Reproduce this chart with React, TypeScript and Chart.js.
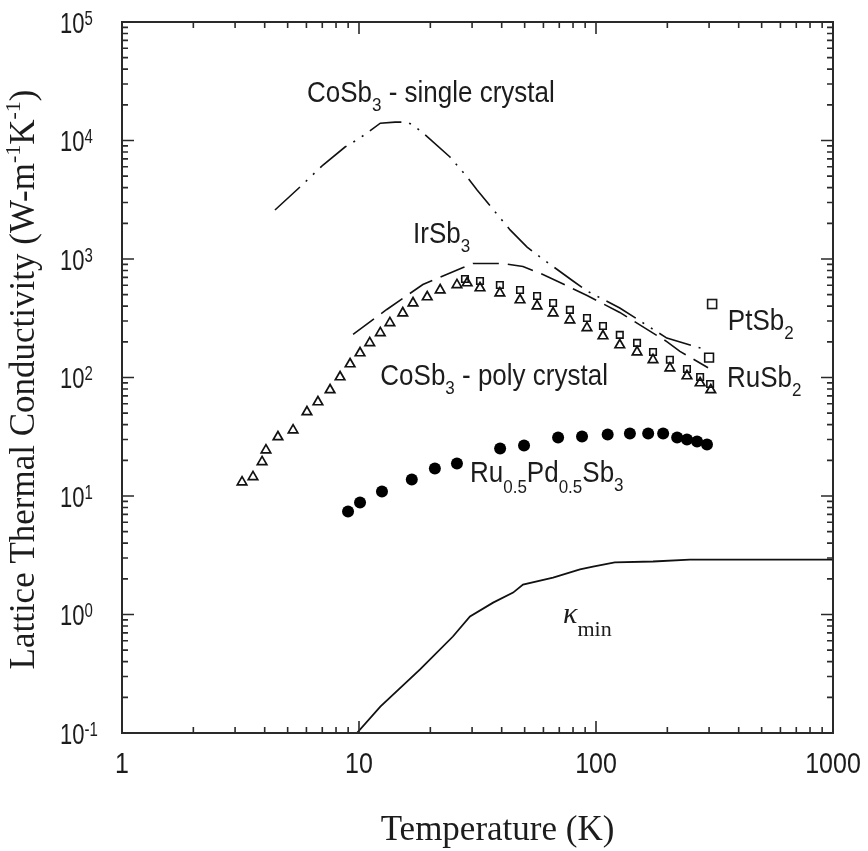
import React, { useEffect, useRef } from 'react';
import { Chart, registerables } from 'chart.js';

Chart.register(...registerables);

// ---------- data (T in K, kappa in W m^-1 K^-1) ----------
const singleCrystalT = [4.42, 5.64, 7.05, 8.73, 10.1, 12.3, 14.2, 15.9, 16.9, 18.6, 24.2, 28.6, 31.5, 43.4, 51.2, 58.0, 80.0, 91.6, 126, 199, 294];
const singleCrystalK = [2590, 4060, 6210, 8810, 10500, 14000, 14300, 14300, 13500, 11600, 7260, 4920, 3820, 1760, 1260, 1040, 652, 537, 386, 215, 171];

const irSb3T = [9.44, 13.1, 18.6, 27.5, 30.3, 40.5, 49.2, 59.7, 70.5, 91.7, 126, 199, 226, 297];
const irSb3K = [231, 375, 609, 848, 916, 916, 864, 740, 634, 492, 354, 201, 166, 121];

const polyT = [3.21, 3.57, 3.90, 4.05, 4.55, 5.27, 6.03, 6.71, 7.55, 8.32, 9.17, 10.1, 11.1, 12.3, 13.5, 15.3, 16.9, 19.4, 22.0, 25.9, 28.6, 32.4, 39.3, 47.8, 56.4, 65.9, 77.6, 91.6, 107, 126, 149, 174, 205, 242, 275, 305];
const polyK = [13.1, 14.5, 19.4, 24.4, 31.5, 36.0, 51.2, 62.1, 78.5, 101, 130, 161, 196, 238, 289, 350, 425, 478, 547, 604, 627, 569, 516, 451, 401, 350, 305, 262, 224, 188, 164, 141, 120, 103, 89.9, 78.5];

const ruSb2T = [28.0, 32.4, 39.3, 47.8, 56.4, 65.9, 77.6, 91.6, 107, 126, 149, 174, 205, 242, 275, 303];
const ruSb2K = [678, 652, 604, 547, 487, 425, 372, 318, 272, 229, 196, 164, 141, 118, 101, 88.1];

const ptSb2T = [300];
const ptSb2K = [147];

const ruPdT = [8.99, 10.1, 12.5, 16.7, 20.9, 25.9, 39.4, 49.7, 69.2, 87.3, 112, 139, 166, 192, 220, 242, 267, 294];
const ruPdK = [7.40, 8.81, 10.9, 13.8, 17.1, 18.8, 25.2, 26.7, 31.2, 31.8, 33.0, 33.7, 33.7, 33.7, 31.2, 30.0, 28.8, 27.2];

const kMinT = [9.8, 12.3, 18.1, 24.9, 29.4, 36.8, 44.7, 49.2, 65.9, 85.6, 97.1, 120, 174, 249, 1000];
const kMinK = [0.1, 0.167, 0.344, 0.652, 0.962, 1.26, 1.53, 1.79, 2.05, 2.40, 2.54, 2.75, 2.80, 2.91, 2.91];

const xTicks = [1, 10, 100, 1000];
const xTickLabels = ['1', '10', '100', '1000'];
const yTicks = [0.1, 1, 10, 100, 1000, 10000, 100000];
const yTickExponents = ['-1', '0', '1', '2', '3', '4', '5'];

const xTitle = 'Temperature (K)';
const yTitleMain = 'Lattice Thermal Conductivity (W-m';

// ---------- helpers ----------
const SANS = '"Liberation Sans", Arial, Helvetica, sans-serif';
const SERIF = '"Liberation Serif", "Times New Roman", Times, serif';
const INK = '#1c1c1c';

type Part = { t: string; size: number; family?: string; style?: string; dy?: number };

function drawRich(ctx: CanvasRenderingContext2D, parts: Part[], x: number, y: number, align: 'left' | 'center' | 'right' = 'left', sy = 1) {
  let w = 0;
  const widths: number[] = [];
  for (const p of parts) {
    ctx.font = `${p.style || ''} ${p.size}px ${p.family || SANS}`;
    const mw = ctx.measureText(p.t).width;
    widths.push(mw);
    w += mw;
  }
  let cx = align === 'left' ? x : align === 'center' ? x - w / 2 : x - w;
  ctx.save();
  ctx.translate(0, y);
  ctx.scale(1, sy);
  ctx.textAlign = 'left';
  ctx.textBaseline = 'alphabetic';
  ctx.fillStyle = INK;
  parts.forEach((p, i) => {
    ctx.font = `${p.style || ''} ${p.size}px ${p.family || SANS}`;
    ctx.fillText(p.t, cx, p.dy || 0);
    cx += widths[i];
  });
  ctx.restore();
}

const decorPlugin = {
  id: 'decor',
  afterDatasetsDraw(chart: any) {
    const { ctx, chartArea } = chart;
    const xs = chart.scales.x;
    const ys = chart.scales.y;
    const { left, right, top, bottom } = chartArea;
    const px = (v: number) => xs.getPixelForValue(v);
    const py = (v: number) => ys.getPixelForValue(v);

    ctx.save();
    // frame
    ctx.strokeStyle = '#2a2a2a';
    ctx.lineWidth = 2;
    ctx.strokeRect(left, top, right - left, bottom - top);

    // inward ticks
    ctx.lineWidth = 1.6;
    ctx.beginPath();
    for (let d = 1; d <= 1000; d *= 10) {
      for (let m = 1; m <= 9; m++) {
        const v = d * m;
        if (v > 1000) break;
        const L = m === 1 ? 12 : 6;
        const X = px(v);
        ctx.moveTo(X, bottom); ctx.lineTo(X, bottom - L);
        ctx.moveTo(X, top); ctx.lineTo(X, top + L);
      }
    }
    for (let d = 0.1; d <= 100001; d *= 10) {
      for (let m = 1; m <= 9; m++) {
        const v = d * m;
        if (v > 100001) break;
        const L = m === 1 ? 12 : 6;
        const Y = py(v);
        ctx.moveTo(left, Y); ctx.lineTo(left + L, Y);
        ctx.moveTo(right, Y); ctx.lineTo(right - L, Y);
      }
    }
    ctx.stroke();

    // x tick labels
    xTicks.forEach((v, i) => {
      drawRich(ctx, [{ t: xTickLabels[i], size: 25 }], px(v), bottom + 40, 'center', 1.15);
    });
    // y tick labels
    yTicks.forEach((v, i) => {
      drawRich(ctx, [
        { t: '10', size: 22 },
        { t: yTickExponents[i], size: 15, dy: -6 },
      ], left - 62, py(v) + 10.5, 'left', 1.3);
    });

    // axis titles
    drawRich(ctx, [{ t: xTitle, size: 35, family: SERIF }], (left + right) / 2 + 20, 840, 'center');
    ctx.save();
    ctx.translate(34, (top + bottom) / 2 + 2);
    ctx.rotate(-Math.PI / 2);
    drawRich(ctx, [
      { t: yTitleMain, size: 35, family: SERIF },
      { t: '-1', size: 22, family: SERIF, dy: -14 },
      { t: 'K', size: 35, family: SERIF },
      { t: '-1', size: 22, family: SERIF, dy: -14 },
      { t: ')', size: 35, family: SERIF },
    ], 0, 0, 'center');
    ctx.restore();

    // annotations (anchored in data coordinates)
    const A = 26, S = 17, SY = 1.1;
    drawRich(ctx, [{ t: 'CoSb', size: A }, { t: '3', size: S, dy: 8 }, { t: ' - single crystal', size: A }], px(6.03), py(21100), 'left', SY);
    drawRich(ctx, [{ t: 'IrSb', size: A }, { t: '3', size: S, dy: 8 }], px(16.9), py(1365), 'left', SY);
    drawRich(ctx, [{ t: 'CoSb', size: A }, { t: '3', size: S, dy: 8 }, { t: ' - poly crystal', size: A }], px(12.3), py(86.4), 'left', SY);
    drawRich(ctx, [
      { t: 'Ru', size: A }, { t: '0.5', size: S, dy: 10 },
      { t: 'Pd', size: A }, { t: '0.5', size: S, dy: 10 },
      { t: 'Sb', size: A }, { t: '3', size: S, dy: 8 },
    ], px(29.4), py(13.1), 'left', SY);
    drawRich(ctx, [{ t: 'PtSb', size: A }, { t: '2', size: S, dy: 8 }], px(360), py(252), 'left', SY);
    drawRich(ctx, [{ t: 'RuSb', size: A }, { t: '2', size: S, dy: 8 }], px(357), py(83.2), 'left', SY);
    drawRich(ctx, [
      { t: 'κ', size: 30, family: SERIF, style: 'italic' },
      { t: 'min', size: 22, family: SERIF, dy: 13 },
    ], px(72.6), py(0.848), 'left', 1);

    // legend square next to PtSb2 label
    ctx.strokeStyle = INK;
    ctx.lineWidth = 1.6;
    const sx = px(309), syy = py(417);
    ctx.strokeRect(sx - 4.5, syy - 4.5, 9, 9);
    ctx.restore();
  },
};

function pts(t: number[], k: number[]) {
  return t.map((v, i) => ({ x: v, y: k[i] }));
}

export default function App() {
  const ref = useRef<HTMLCanvasElement | null>(null);

  useEffect(() => {
    if (!ref.current) return;
    const chart = new Chart(ref.current, {
      type: 'scatter',
      data: {
        datasets: [
          {
            label: 'CoSb3 - single crystal',
            data: pts(singleCrystalT, singleCrystalK),
            showLine: true, borderColor: '#111', borderWidth: 1.6, borderDash: [34, 8, 2, 8, 2, 8],
            pointRadius: 0, tension: 0,
          },
          {
            label: 'IrSb3',
            data: pts(irSb3T, irSb3K),
            showLine: true, borderColor: '#111', borderWidth: 1.6, borderDash: [26, 9],
            pointRadius: 0, tension: 0,
          },
          {
            label: 'CoSb3 - poly crystal',
            data: pts(polyT, polyK),
            showLine: false, pointStyle: 'triangle', pointRadius: 5.5,
            pointBorderColor: '#111', pointBackgroundColor: 'rgba(255,255,255,0)', pointBorderWidth: 1.7,
          },
          {
            label: 'RuSb2',
            data: pts(ruSb2T, ruSb2K),
            showLine: false, pointStyle: 'rect', pointRadius: 4.6,
            pointBorderColor: '#111', pointBackgroundColor: 'rgba(255,255,255,0)', pointBorderWidth: 1.6,
          },
          {
            label: 'PtSb2',
            data: pts(ptSb2T, ptSb2K),
            showLine: false, pointStyle: 'rect', pointRadius: 6.2,
            pointBorderColor: '#111', pointBackgroundColor: 'rgba(255,255,255,0)', pointBorderWidth: 1.6,
          },
          {
            label: 'Ru0.5Pd0.5Sb3',
            data: pts(ruPdT, ruPdK),
            showLine: false, pointStyle: 'circle', pointRadius: 6,
            pointBorderColor: '#000', pointBackgroundColor: '#000', pointBorderWidth: 0,
          },
          {
            label: 'kappa min',
            data: pts(kMinT, kMinK),
            showLine: true, borderColor: '#111', borderWidth: 1.8,
            pointRadius: 0, tension: 0,
          },
        ],
      },
      options: {
        responsive: false,
        animation: false,
        layout: { padding: { top: 22, right: 35, left: 0, bottom: 0 } },
        plugins: { legend: { display: false }, tooltip: { enabled: false } },
        scales: {
          x: {
            type: 'logarithmic', min: 1, max: 1000,
            grid: { display: false }, border: { display: false },
            ticks: { display: false },
            afterFit: (s: any) => { s.height = 118; },
          },
          y: {
            type: 'logarithmic', min: 0.1, max: 100000,
            grid: { display: false }, border: { display: false },
            ticks: { display: false },
            afterFit: (s: any) => { s.width = 122; },
          },
        },
      } as any,
      plugins: [decorPlugin],
    });
    return () => chart.destroy();
  }, []);

  return (
    <div style={{ position: 'fixed', left: 0, top: 0, width: 868, height: 851, background: '#fff' }}>
      <canvas ref={ref} width={868} height={851} style={{ display: 'block' }} />
    </div>
  );
}
